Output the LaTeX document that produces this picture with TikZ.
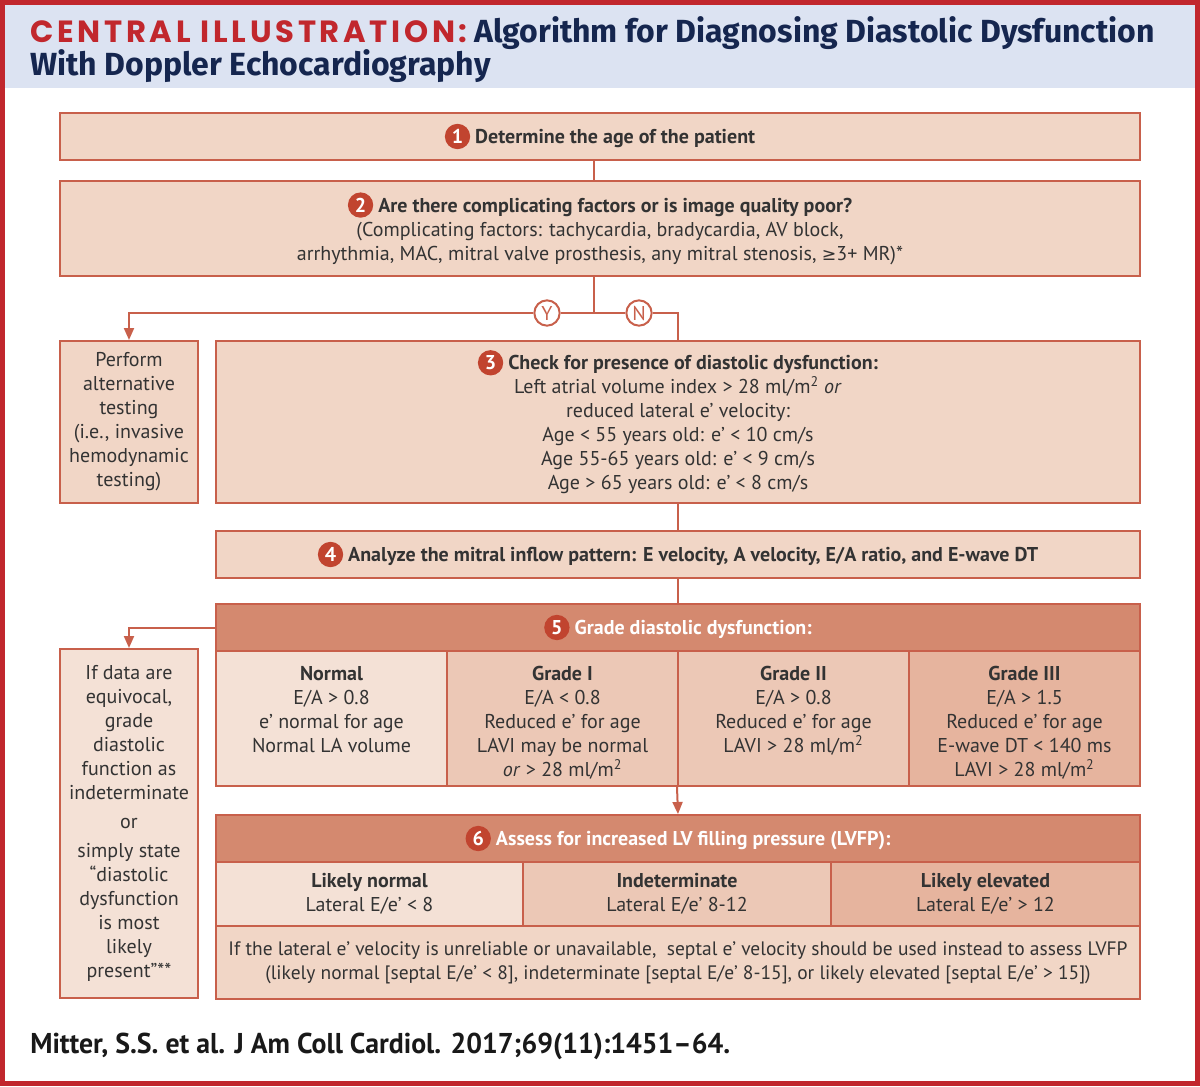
\documentclass[tikz,border=0pt]{standalone}
\usepackage{graphicx}
\usepackage{fontspec}
\setmainfont{PT Sans}
\newfontfamily\titlefont{Poppins}
\newfontfamily\headfont{Fira Sans}
\newfontfamily\symfont{DejaVu Sans}
\usepackage{tikz}
\usetikzlibrary{arrows.meta, positioning}
\usepackage{xcolor}
\definecolor{framered}{HTML}{C1272D}
\definecolor{headbg}{HTML}{DCE3F2}
\definecolor{navy}{HTML}{15264F}
\definecolor{linered}{HTML}{C8604B}
\definecolor{boxfill}{HTML}{F1D6C6}
\definecolor{lightfill}{HTML}{F4E1D6}
\definecolor{midfill}{HTML}{ECC8B6}
\definecolor{darkfill}{HTML}{E6B49E}
\definecolor{headfill}{HTML}{D4896F}
\definecolor{stepred}{HTML}{C1442F}
\definecolor{textgray}{HTML}{333333}

\newcommand{\bodysize}{\fontsize{15}{18}\selectfont}
\newcommand{\stepnum}[1]{\tikz[baseline=(n.base)]\node[stepdot] (n) {#1};}

\tikzset{
  stepdot/.style={circle, fill=stepred, text=white, inner sep=0pt, minimum size=19pt, font=\bfseries},
  boxsize/.style 2 args={minimum width=#1*0.75pt, minimum height=#2*0.75pt},
  box/.style={draw=linered, line width=1.5pt, fill=boxfill, inner sep=0pt, align=center,
    text=textgray, font=\bodysize},
  headrow/.style={box, fill=headfill, text=white, font=\bodysize\bfseries},
  celltext/.style={align=center, text=textgray, font=\bodysize, inner sep=0pt},
  yn/.style={circle, draw=linered, line width=1.5pt, fill=white, text=linered,
    minimum size=19pt, inner sep=0pt, font=\bodysize},
  conn/.style={draw=linered, line width=1.5pt},
  flow/.style={conn, -{Triangle[length=9pt,width=7.5pt]}}
}

\begin{document}
\begin{tikzpicture}[x=0.75pt, y=-0.75pt]
  \useasboundingbox (0,0) rectangle (1200,1086);
  % Frame and title band
  \fill[headbg] (5,5) rectangle (1195,88);
  \draw[framered, line width=3.75pt] (2.5,2.5) rectangle (1197.5,1083.5);
  \node[anchor=base west, inner sep=0pt] (title1) at (30,42)
    {{\titlefont\bfseries\fontsize{23}{26}\selectfont\addfontfeatures{LetterSpace=12}\color{framered}CENTRAL ILLUSTRATION:}\hspace{5pt}%
     {\headfont\bfseries\fontsize{24}{28}\selectfont\color{navy}Algorithm for Diagnosing Diastolic Dysfunction}};
  \node[anchor=base west, inner sep=0pt, text=navy, font=\headfont\bfseries\fontsize{24}{28}\selectfont]
    (title2) at (30,75) {With Doppler Echocardiography};

  % Steps 1 to 4
  \node[box, boxsize={1080}{47}] (s1) at (600,136.5)
    {\bfseries\stepnum{1} Determine the age of the patient};
  \node[box, boxsize={1080}{95}] (s2) at (600,228.5)
    {{\bfseries\stepnum{2} Are there complicating factors or is image quality poor?}\\
     (Complicating factors: tachycardia, bradycardia, AV block,\\
     arrhythmia, MAC, mitral valve prosthesis, any mitral stenosis, {\symfont\fontsize{13}{18}\selectfont≥}3+ MR)*};
  \node[box, boxsize={138}{162}] (alt) at (129,422)
    {Perform\\alternative\\testing\\(i.e., invasive\\hemodynamic\\testing)};
  \node[box, boxsize={924}{162}] (s3) at (678,422)
    {{\bfseries\stepnum{3} Check for presence of diastolic dysfunction:}\\
     Left atrial volume index > 28 ml/m\textsuperscript{2} \emph{or}\\
     reduced lateral e' velocity:\\
     Age < 55 years old: e' < 10 cm/s\\
     Age 55-65 years old: e' < 9 cm/s\\
     Age > 65 years old: e' < 8 cm/s};
  \node[box, boxsize={924}{47}] (s4) at (678,554.5)
    {\bfseries\stepnum{4} Analyze the mitral inflow pattern: E velocity, A velocity, E/A ratio, and E-wave DT};

  % Yes / no branch
  \coordinate (split) at (594,313);
  \node[yn] (ycirc) at (547,313) {Y};
  \node[yn] (ncirc) at (639,313) {N};
  \draw[conn] (s1.south -| split) -- (s2.north -| split);
  \draw[conn] (s2.south -| split) -- (split);
  \draw[conn] (split) -- (ycirc);
  \draw[conn] (split) -- (ncirc);
  \draw[flow] (ycirc) -| (alt.north);
  \draw[conn] (ncirc) -| (s3.north);
  \draw[conn] (s3.south) -- (s4.north);

  % Step 5: grades
  \node[headrow, boxsize={924}{47}] (s5) at (678,627.5) {\stepnum{5} Grade diastolic dysfunction:};
  \draw[conn] (s4.south) -- (s5.north);
  \node[box, fill=lightfill, boxsize={231}{135}] (g0) at (331.5,718.5) {};
  \node[box, fill=midfill, boxsize={231}{135}] (g1) at (562.5,718.5) {};
  \node[box, fill=midfill, boxsize={231}{135}] (g2) at (793.5,718.5) {};
  \node[box, fill=darkfill, boxsize={231}{135}] (g3) at (1024.5,718.5) {};
  \node[celltext, below=12pt of g0.north] (g0t)
    {\bfseries Normal\\E/A > 0.8\\e' normal for age\\Normal LA volume};
  \node[celltext, below=12pt of g1.north] (g1t)
    {\bfseries Grade I\\E/A < 0.8\\Reduced e' for age\\LAVI may be normal\\\emph{or} > 28 ml/m\textsuperscript{2}};
  \node[celltext, below=12pt of g2.north] (g2t)
    {\bfseries Grade II\\E/A > 0.8\\Reduced e' for age\\LAVI > 28 ml/m\textsuperscript{2}};
  \node[celltext, below=12pt of g3.north] (g3t)
    {\bfseries Grade III\\E/A > 1.5\\Reduced e' for age\\E-wave DT < 140 ms\\LAVI > 28 ml/m\textsuperscript{2}};
  \node[box, fill=lightfill, boxsize={138}{349}] (eqv) at (129,823.5)
    {If data are\\equivocal,\\grade\\diastolic\\function as\\indeterminate\\[4pt]
     or\\[4pt]simply state\\“diastolic\\dysfunction\\is most\\likely\\present”**};
  \draw[flow] (s5.west) -| (eqv.north);

  % Step 6: filling pressure
  \node[headrow, boxsize={924}{47}] (s6) at (678,838.5) {\stepnum{6} Assess for increased LV filling pressure (LVFP):};
  \draw[flow] (g2.south west) -- (s6.north);
  \node[box, fill=lightfill, boxsize={307}{64}] (p0) at (369.5,894) {{\bfseries Likely normal}\\Lateral E/e' < 8};
  \node[box, fill=midfill, boxsize={308}{64}] (p1) at (677,894) {{\bfseries Indeterminate}\\Lateral E/e' 8-12};
  \node[box, fill=darkfill, boxsize={309}{64}] (p2) at (985.5,894) {{\bfseries Likely elevated}\\Lateral E/e' > 12};
  \node[box, boxsize={924}{73}, font=\fontsize{14.6}{18}\selectfont] (note) at (678,962.5)
    {If the lateral e' velocity is unreliable or unavailable,\ \ septal e' velocity should be used instead to assess LVFP\\
     (likely normal [septal E/e' < 8], indeterminate [septal E/e' 8-15], or likely elevated [septal E/e' > 15])};

  % Citation
  \node[anchor=base west, inner sep=0pt, text=black!90, font=\bfseries\fontsize{21.5}{24}\selectfont]
    (cite) at (30,1053) {\scalebox{0.97}[1]{Mitter, S.S. et al. J Am Coll Cardiol. 2017;69(11):1451--64.}};
\end{tikzpicture}
\end{document}
